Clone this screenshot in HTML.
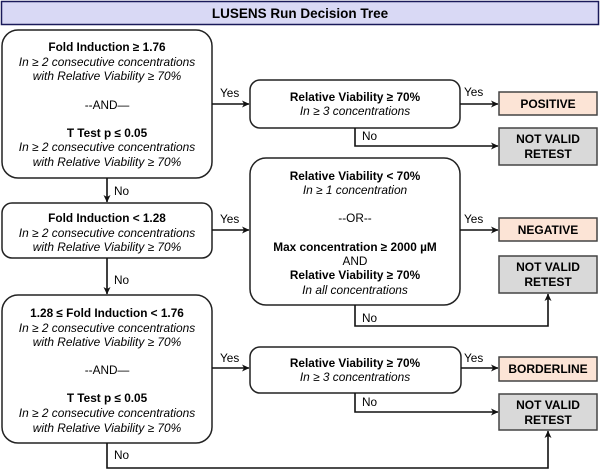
<!DOCTYPE html>
<html><head><meta charset="utf-8"><style>
html,body{margin:0;padding:0;background:#fff;}
svg{display:block;font-family:"Liberation Sans",Arial,sans-serif;}
.b{font-weight:bold;font-size:11.8px;}
.i{font-style:italic;font-size:11.9px;}
.n{font-size:11.8px;}
.t{font-weight:bold;font-size:12px;}
.box{fill:#fff;stroke:#222;stroke-width:1.5;}
.ln{stroke:#111;stroke-width:1.6;fill:none;}
.pe{fill:#fce4d6;stroke:#444;stroke-width:1.5;}
.gr{fill:#d9d9d9;stroke:#444;stroke-width:1.5;}
</style></head><body>
<svg width="600" height="470" viewBox="0 0 600 470">
<defs><marker id="ah" markerWidth="8" markerHeight="8" refX="7" refY="4" orient="auto" markerUnits="userSpaceOnUse"><path d="M0,0.5 L7.5,4 L0,7.5 L2,4 Z" fill="#111"/></marker></defs>

<g>
<rect x="1.5" y="1.5" width="597" height="23" fill="#d9d9f5" stroke="#1a1a5a" stroke-width="1.5"/>
<text x="300" y="18" text-anchor="middle" font-weight="bold" font-size="13.5">LUSENS Run Decision Tree</text>
</g>

<g>
<rect class="box" x="2" y="30" width="210" height="148" rx="16"/>
<g text-anchor="middle">
<text class="b" x="107" y="51">Fold Induction ≥ 1.76</text>
<text class="i" x="107" y="66">In ≥ 2 consecutive concentrations</text>
<text class="i" x="107" y="80">with Relative Viability ≥ 70%</text>
<text class="n" x="107" y="109">--AND—</text>
<text class="b" x="107" y="137">T Test p ≤ 0.05</text>
<text class="i" x="107" y="151">In ≥ 2 consecutive concentrations</text>
<text class="i" x="107" y="166">with Relative Viability ≥ 70%</text>
</g></g>

<g>
<rect class="box" x="250" y="80" width="210" height="48" rx="10"/>
<text class="b" x="355" y="101" text-anchor="middle">Relative Viability ≥ 70%</text>
<text class="i" x="355" y="115" text-anchor="middle">In ≥ 3 concentrations</text>
</g>

<g>
<rect class="box" x="2" y="203" width="210" height="55" rx="10"/>
<text class="b" x="107" y="222" text-anchor="middle">Fold Induction &lt; 1.28</text>
<text class="i" x="107" y="237" text-anchor="middle">In ≥ 2 consecutive concentrations</text>
<text class="i" x="107" y="251" text-anchor="middle">with Relative Viability ≥ 70%</text>
</g>

<g>
<rect class="box" x="250" y="158" width="210" height="147" rx="16"/>
<g text-anchor="middle">
<text class="b" x="355" y="180">Relative Viability &lt; 70%</text>
<text class="i" x="355" y="194">In ≥ 1 concentration</text>
<text class="n" x="355" y="222">--OR--</text>
<text class="b" x="355" y="251">Max concentration ≥ 2000 µM</text>
<text class="n" x="355" y="265">AND</text>
<text class="b" x="355" y="279">Relative Viability ≥ 70%</text>
<text class="i" x="355" y="294">In all concentrations</text>
</g></g>

<g>
<rect class="box" x="2" y="295" width="210" height="148" rx="16"/>
<g text-anchor="middle">
<text class="b" x="107" y="317">1.28 ≤ Fold Induction &lt; 1.76</text>
<text class="i" x="107" y="332">In ≥ 2 consecutive concentrations</text>
<text class="i" x="107" y="346">with Relative Viability ≥ 70%</text>
<text class="n" x="107" y="374">--AND—</text>
<text class="b" x="107" y="402">T Test p ≤ 0.05</text>
<text class="i" x="107" y="417">In ≥ 2 consecutive concentrations</text>
<text class="i" x="107" y="432">with Relative Viability ≥ 70%</text>
</g></g>

<g>
<rect class="box" x="250" y="347" width="211" height="46" rx="10"/>
<text class="b" x="355" y="367" text-anchor="middle">Relative Viability ≥ 70%</text>
<text class="i" x="355" y="381" text-anchor="middle">In ≥ 3 concentrations</text>
</g>

<g><rect class="pe" x="499" y="92" width="98" height="23"/><text class="t" x="548" y="108" text-anchor="middle">POSITIVE</text></g>
<g><rect class="gr" x="499" y="128" width="98" height="37"/><text class="t" x="548" y="143" text-anchor="middle">NOT VALID</text><text class="t" x="548" y="158" text-anchor="middle">RETEST</text></g>
<g><rect class="pe" x="499" y="218" width="98" height="23"/><text class="t" x="548" y="234" text-anchor="middle">NEGATIVE</text></g>
<g><rect class="gr" x="499" y="256" width="98" height="37"/><text class="t" x="548" y="271" text-anchor="middle">NOT VALID</text><text class="t" x="548" y="286" text-anchor="middle">RETEST</text></g>
<g><rect class="pe" x="499" y="357" width="98" height="24"/><text class="t" x="548" y="373" text-anchor="middle">BORDERLINE</text></g>
<g><rect class="gr" x="499" y="394" width="98" height="36"/><text class="t" x="548" y="409" text-anchor="middle">NOT VALID</text><text class="t" x="548" y="424" text-anchor="middle">RETEST</text></g>

<g>
<path class="ln" d="M212,104 H249" marker-end="url(#ah)"/>
<path class="ln" d="M460,104 H498" marker-end="url(#ah)"/>
<path class="ln" d="M355,128 V146 H498" marker-end="url(#ah)"/>
<path class="ln" d="M107,178 V202" marker-end="url(#ah)"/>
<path class="ln" d="M212,230 H249" marker-end="url(#ah)"/>
<path class="ln" d="M460,230 H498" marker-end="url(#ah)"/>
<path class="ln" d="M355,305 V326 H548 V294" marker-end="url(#ah)"/>
<path class="ln" d="M107,258 V294" marker-end="url(#ah)"/>
<path class="ln" d="M212,368 H249" marker-end="url(#ah)"/>
<path class="ln" d="M461,368 H498" marker-end="url(#ah)"/>
<path class="ln" d="M355,393 V412 H498" marker-end="url(#ah)"/>
<path class="ln" d="M107,443 V468 H548 V431" marker-end="url(#ah)"/>
</g>
<g>
<text class="n" x="220" y="97">Yes</text>
<text class="n" x="464" y="96">Yes</text>
<text class="n" x="362" y="140">No</text>
<text class="n" x="114" y="195">No</text>
<text class="n" x="220" y="223">Yes</text>
<text class="n" x="464" y="223">Yes</text>
<text class="n" x="362" y="322">No</text>
<text class="n" x="114" y="284">No</text>
<text class="n" x="220" y="362">Yes</text>
<text class="n" x="464" y="362">Yes</text>
<text class="n" x="362" y="406">No</text>
<text class="n" x="114" y="459">No</text>
</g>
</svg>
</body></html>
